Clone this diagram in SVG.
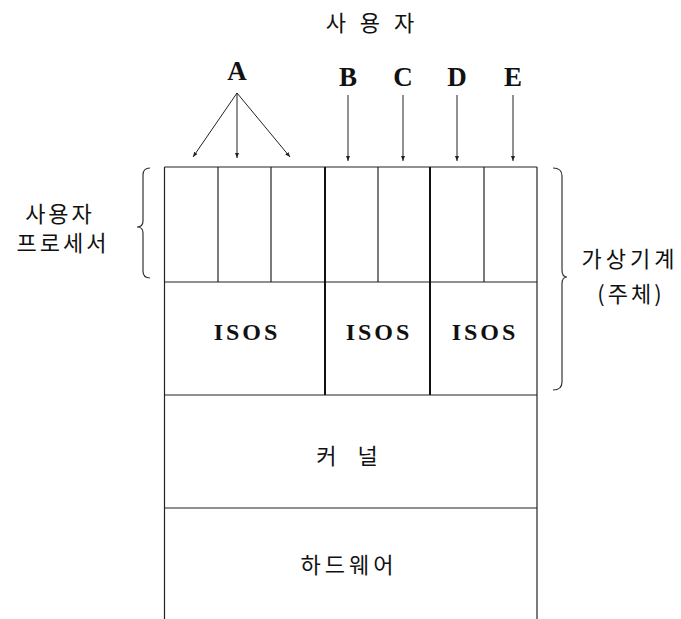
<svg xmlns="http://www.w3.org/2000/svg" width="681" height="619" viewBox="0 0 681 619">
<defs>
<marker id="ah" viewBox="0 0 10 10" refX="10" refY="5" markerWidth="5" markerHeight="5" orient="auto" markerUnits="userSpaceOnUse">
<path d="M0,1 L10,5 L0,9 z" fill="#222"/>
</marker>
<style>
.ln{stroke:#222;stroke-width:1.2;fill:none}
.thick{stroke:#111;stroke-width:2;fill:none}
.ko{font-family:"Noto Sans CJK KR","Noto Sans",sans-serif;font-size:22px;fill:#111}
.lat{font-family:"Liberation Serif","Times New Roman",serif;fill:#111;font-weight:bold}
.arr{stroke:#222;stroke-width:1;fill:none;marker-end:url(#ah)}
.brace{stroke:#333;stroke-width:1.2;fill:none}
</style>
</defs>
<rect width="681" height="619" fill="#fff"/>

<g id="title">
<text class="ko" x="370" y="31" text-anchor="middle" xml:space="preserve" word-spacing="9">사 용 자</text>
</g>

<g id="labels">
<text class="lat" x="237" y="80" font-size="27" text-anchor="middle">A</text>
<text class="lat" x="348" y="86" font-size="27" text-anchor="middle">B</text>
<text class="lat" x="403" y="86" font-size="27" text-anchor="middle">C</text>
<text class="lat" x="457" y="86" font-size="27" text-anchor="middle">D</text>
<text class="lat" x="513" y="86" font-size="27" text-anchor="middle">E</text>
</g>

<g id="connectors">
<line class="arr" x1="237" y1="93" x2="193" y2="157"/>
<line class="arr" x1="237" y1="93" x2="237" y2="158"/>
<line class="arr" x1="237" y1="93" x2="290" y2="157"/>
<line class="arr" x1="348" y1="95" x2="348" y2="161"/>
<line class="arr" x1="403" y1="95" x2="403" y2="161"/>
<line class="arr" x1="457" y1="95" x2="457" y2="161"/>
<line class="arr" x1="513" y1="95" x2="513" y2="161"/>
</g>

<g id="user-process-row">
<line class="ln" x1="164.5" y1="167" x2="537" y2="167"/>
<line class="ln" x1="218" y1="167" x2="218" y2="282"/>
<line class="ln" x1="271" y1="167" x2="271" y2="282"/>
<line class="ln" x1="378" y1="167" x2="378" y2="282"/>
<line class="ln" x1="484" y1="167" x2="484" y2="282"/>
<line class="ln" x1="164.5" y1="282" x2="537" y2="282"/>
</g>

<g id="isos-row">
<line class="thick" x1="325" y1="167" x2="325" y2="395"/>
<line class="thick" x1="430" y1="167" x2="430" y2="395"/>
<line class="ln" x1="164.5" y1="395" x2="537" y2="395"/>
<text class="lat" x="247" y="340" font-size="24" letter-spacing="3" text-anchor="middle">ISOS</text>
<text class="lat" x="379" y="340" font-size="24" letter-spacing="3" text-anchor="middle">ISOS</text>
<text class="lat" x="485" y="340" font-size="24" letter-spacing="3" text-anchor="middle">ISOS</text>
</g>

<g id="kernel">
<line class="ln" x1="164.5" y1="508" x2="537" y2="508"/>
<text class="ko" x="347" y="464" text-anchor="middle" xml:space="preserve" word-spacing="16">커 널</text>
</g>

<g id="hardware">
<text class="ko" x="349" y="573" text-anchor="middle" letter-spacing="4">하드웨어</text>
</g>

<g id="frame">
<line class="ln" x1="164.5" y1="167" x2="164.5" y2="619"/>
<line class="ln" x1="537" y1="167" x2="537" y2="619"/>
</g>

<g id="left-brace">
<path class="brace" d="M150,168 Q143,168 143,175 L143,221 Q143,227 137,227 Q143,227 143,233 L143,271 Q143,278 150,278"/>
<text class="ko" x="60" y="222" text-anchor="middle" letter-spacing="3">사용자</text>
<text class="ko" x="63" y="251" text-anchor="middle" letter-spacing="3">프로세서</text>
</g>

<g id="right-brace">
<path class="brace" d="M553,168 Q562,168 562,176 L562,270 Q562,277 567,277 Q562,277 562,284 L562,382 Q562,390 553,390"/>
<text class="ko" x="630" y="267" text-anchor="middle" letter-spacing="4">가상기계</text>
<text class="ko" x="631" y="302" text-anchor="middle" letter-spacing="3">(주체)</text>
</g>
</svg>
